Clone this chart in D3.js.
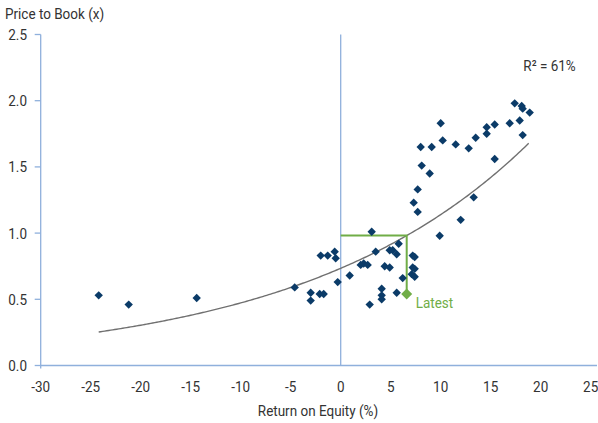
<!DOCTYPE html>
<html><head><meta charset="utf-8">
<script src="https://cdn.jsdelivr.net/npm/d3@7"></script>
<style>
html,body{margin:0;padding:0;background:#fff;}
svg text{font-family:"Roboto","Liberation Sans",sans-serif;fill:#333;}
</style></head>
<body><svg id="c" width="598" height="423"></svg>
<script>
// ROE (%) and Price-to-Book (x) observations
const roe = [-24.2,-21.2,-14.4,-4.6,-3.0,-3.0,-2.1,-1.7,-2.0,-1.3,-0.6,-0.5,-0.3,0.9,
  3.1,3.5,2.0,2.3,2.7,4.9,5.2,5.8,5.6,4.4,4.9,7.2,7.4,7.2,7.4,7.1,7.4,6.2,4.1,4.1,4.1,5.6,2.9,
  9.9,12.0,13.3,7.7,7.3,7.7,15.4,8.1,8.9,8.0,9.1,10.0,10.2,11.5,12.8,13.5,18.2,14.6,14.6,15.4,16.9,17.9,18.9,18.1,18.2,17.4];
const pb = [0.53,0.46,0.51,0.59,0.55,0.49,0.54,0.54,0.83,0.83,0.86,0.81,0.63,0.68,
  1.01,0.86,0.76,0.77,0.76,0.87,0.87,0.92,0.84,0.75,0.74,0.83,0.82,0.74,0.73,0.69,0.67,0.66,0.58,0.53,0.50,0.55,0.46,
  0.98,1.10,1.27,1.16,1.23,1.33,1.56,1.51,1.45,1.65,1.65,1.83,1.70,1.67,1.64,1.72,1.74,1.80,1.75,1.82,1.83,1.85,1.91,1.96,1.94,1.98];
const latest = {roe: 6.6, pb: 0.54};
// Exponential trend fit: pb = a * exp(b * roe)
const trendA = 0.734, trendB = 0.044, trendRange = [-24.2, 18.8];
const xTicks = [-30,-25,-20,-15,-10,-5,0,5,10,15,20,25];
const yTicks = [0,0.5,1.0,1.5,2.0,2.5];

const svg = d3.select("#c");
const x = d3.scaleLinear().domain([-30,25]).range([40.7,590.7]);
const y = d3.scaleLinear().domain([0,2.5]).range([365.5,34.5]);
const axisCol = "#8fb0dc";
const SX = 0.9;
function txt(px, py, s, anchor, size, color){
  return svg.append("text").attr("transform",`translate(${px},${py}) scale(${SX},1)`)
    .attr("text-anchor",anchor||"start").attr("font-size",size||15)
    .style("fill",color||"#333").text(s);
}

// axes lines
svg.append("line").attr("x1",x(-30)).attr("x2",597).attr("y1",y(0)).attr("y2",y(0)).attr("stroke",axisCol).attr("stroke-width",1.3);
svg.append("line").attr("x1",x(-30)).attr("x2",x(-30)).attr("y1",y(2.5)).attr("y2",y(0)+3).attr("stroke",axisCol).attr("stroke-width",1.3);
svg.append("line").attr("x1",x(0)).attr("x2",x(0)).attr("y1",y(2.5)).attr("y2",y(0)).attr("stroke",axisCol).attr("stroke-width",1.3);

// y ticks + labels
yTicks.forEach(t=>{
  svg.append("line").attr("x1",x(-30)-6).attr("x2",x(-30)).attr("y1",y(t)).attr("y2",y(t)).attr("stroke",axisCol).attr("stroke-width",1.3);
  txt(27, y(t)+5.5, d3.format(".1f")(t), "end");
});
// x labels
xTicks.forEach(t=> txt(x(t), 392, String(t), "middle"));
txt(318, 416, "Return on Equity (%)", "middle");
txt(5, 19, "Price to Book (x)", "start");
txt(549.5, 71, "R\u00b2 = 61%", "middle");

// trend line
const tx = d3.range(trendRange[0], trendRange[1]+0.001, 0.2);
const line = d3.line().x(d=>x(d)).y(d=>y(trendA*Math.exp(trendB*d)));
svg.append("path").attr("d",line(tx)).attr("fill","none").attr("stroke","#707070").attr("stroke-width",1.4);

// green guide lines
const green = "#70ad47";
svg.append("path").attr("d",`M${x(0)},${y(trendA*Math.exp(trendB*latest.roe))}H${x(latest.roe)}V${y(latest.pb)}`)
  .attr("fill","none").attr("stroke",green).attr("stroke-width",2);

// points
const diamond = r => `M0,${-r}L${r},0L0,${r}L${-r},0Z`;
svg.append("g").selectAll("path").data(roe.map((r,i)=>[r,pb[i]])).join("path")
  .attr("d",diamond(4.2)).attr("transform",d=>`translate(${x(d[0])},${y(d[1])})`).attr("fill","#0b3b68");
svg.append("path").attr("d",diamond(5.5)).attr("transform",`translate(${x(latest.roe)},${y(latest.pb)})`).attr("fill",green);
txt(x(latest.roe)+9, y(latest.pb)+14, "Latest", "start", 15, green);
</script></body></html>
